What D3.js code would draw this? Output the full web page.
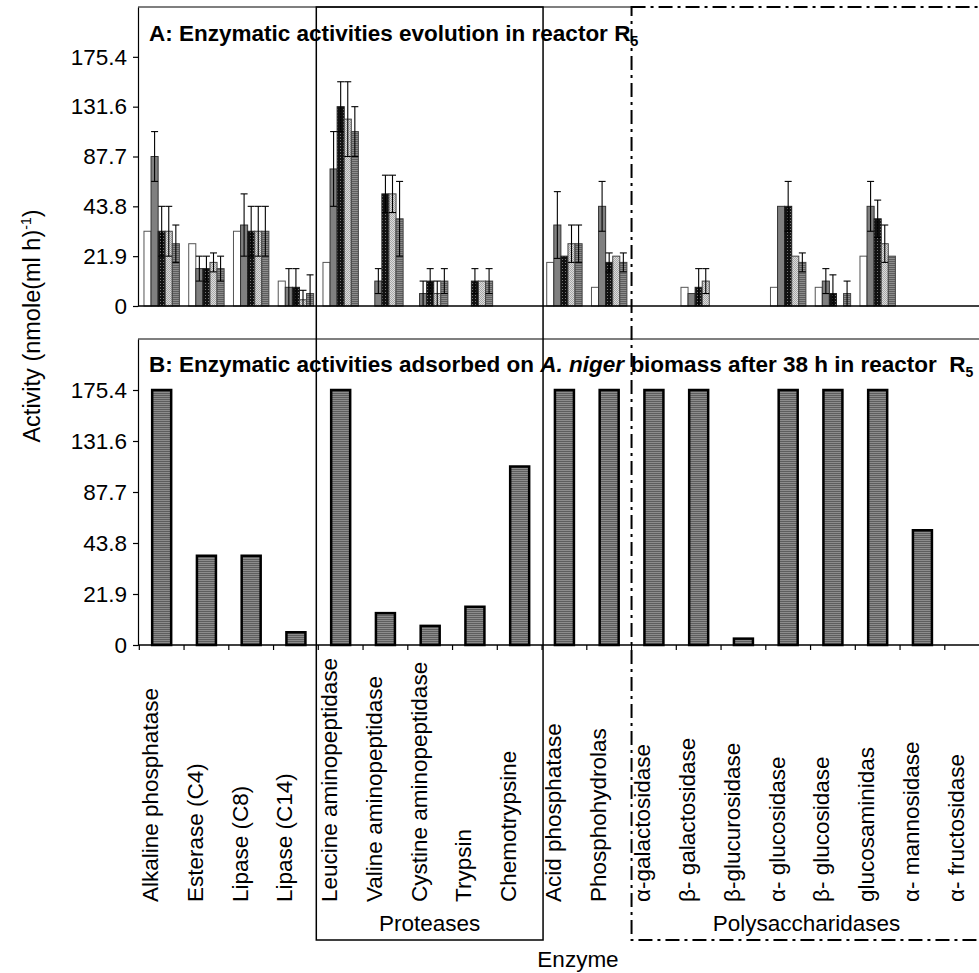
<!DOCTYPE html>
<html>
<head>
<meta charset="utf-8">
<script src="https://cdn.jsdelivr.net/npm/d3@7"></script>
<style>
  body { margin: 0; background: #fff; }
  svg text { font-family: "Liberation Sans", Arial, sans-serif; fill: #000; }
</style>
</head>
<body>
<div id="chart"></div>
<script>
// The 19 enzymes of the API ZYM strip
var enzymes = ["Alkaline phosphatase", "Esterase (C4)", "Lipase (C8)", "Lipase (C14)",
    "Leucine aminopeptidase", "Valine aminopeptidase", "Cystine aminopeptidase", "Trypsin",
    "Chemotrypsine", "Acid phosphatase", "Phosphohydrolas", "\u03b1-galactosidase",
    "\u03b2- galactosidase", "\u03b2-glucurosidase", "\u03b1- glucosidase", "\u03b2- glucosidase",
    "glucosaminidas", "\u03b1- mannosidase", "\u03b1- fructosidase"];

// y axis works in API ZYM levels (0..5), each level labelled in nmole(ml h)-1
var levelLabels = ["0", "21.9", "43.8", "87.7", "131.6", "175.4"];

// Panel A: five samplings in reactor R5 (level values and error bars)
var sampleA1 = [1.5, 1.25, 1.5, 0.5, 0.875, 0, 0, 0, 0, 0.875, 0.375, 0, 0.375, 0, 0.375, 0.375, 1, 0, 0];
var sampleA2 = [3, 0.75, 1.625, 0.375, 2.75, 0.5, 0.25, 0, 0, 1.625, 2, 0, 0.25, 0, 2, 0.5, 2, 0, 0];
var sampleA3 = [1.5, 0.75, 1.5, 0.375, 4, 2.25, 0.5, 0.5, 0, 1, 0.875, 0, 0.375, 0, 2, 0.25, 1.75, 0, 0];
var sampleA4 = [1.5, 0.875, 1.5, 0.125, 3.75, 2.25, 0.25, 0.5, 0, 1.25, 1, 0, 0.5, 0, 1, 0, 1.25, 0, 0];
var sampleA5 = [1.25, 0.75, 1.5, 0.25, 3.5, 1.75, 0.5, 0.5, 0, 1.25, 0.875, 0, 0, 0, 0.875, 0.25, 1, 0, 0];

var errA1 = [0, 0, 0, 0, 0, 0, 0, 0, 0, 0, 0, 0, 0, 0, 0, 0, 0, 0, 0];
var errA2 = [0.5, 0.25, 0.625, 0.375, 0.75, 0.25, 0.25, 0, 0, 0.67, 0.5, 0, 0, 0, 0, 0.25, 0.5, 0, 0];
var errA3 = [0.5, 0.25, 0.5, 0.375, 0.5, 0.375, 0.25, 0.25, 0, 0, 0.19, 0, 0.375, 0, 0.5, 0.375, 0.375, 0, 0];
var errA4 = [0.5, 0.19, 0.5, 0.19, 0.75, 0.375, 0.25, 0, 0, 0.375, 0, 0, 0.25, 0, 0, 0, 0.375, 0, 0];
var errA5 = [0.375, 0.25, 0.5, 0.375, 0.5, 0.75, 0.25, 0.25, 0, 0.375, 0.19, 0, 0, 0, 0.19, 0.25, 0, 0, 0];

// Panel B: activities adsorbed on A. niger biomass after 38 h
var adsorbedB = [5, 1.75, 1.75, 0.25, 5, 0.625, 0.375, 0.75, 3.5, 5, 5, 5, 5, 0.125, 5, 5, 5, 2.25, 0];

var width = 979, height = 973;

var svg = d3.select("#chart")
    .append("svg")
    .attr("width", width)
    .attr("height", height);

// fill patterns of the excel bars
var defs = svg.append("defs");

var stripe = defs.append("pattern").attr("id", "stripe")
    .attr("patternUnits", "userSpaceOnUse").attr("width", 4).attr("height", 2);
stripe.append("rect").attr("width", 4).attr("height", 2).attr("fill", "#8c8c8c");
stripe.append("rect").attr("y", 1).attr("width", 4).attr("height", 1).attr("fill", "#5e5e5e");

var checker = defs.append("pattern").attr("id", "checker")
    .attr("patternUnits", "userSpaceOnUse").attr("width", 3).attr("height", 3);
checker.append("rect").attr("width", 3).attr("height", 3).attr("fill", "#111");
checker.append("rect").attr("x", 1).attr("y", 1).attr("width", 1).attr("height", 1).attr("fill", "#777");

var dots = defs.append("pattern").attr("id", "dots")
    .attr("patternUnits", "userSpaceOnUse").attr("width", 2).attr("height", 2);
dots.append("rect").attr("width", 2).attr("height", 2).attr("fill", "#dcdcdc");
dots.append("rect").attr("width", 1).attr("height", 1).attr("fill", "#a8a8a8");
dots.append("rect").attr("x", 1).attr("y", 1).attr("width", 1).attr("height", 1).attr("fill", "#a8a8a8");

// scales
var x = d3.scaleBand().domain(enzymes).range([139.3, 139.3 + 44.75 * enzymes.length]);
var yA = d3.scaleLinear().domain([0, 6]).range([306, 7]);
var yB = d3.scaleLinear().domain([0, 6]).range([645, 339]);
var xSample = d3.scaleBand().domain(d3.range(5)).range([0, x.bandwidth()]).paddingOuter(0.66);

var seriesA = [
    { vals: sampleA1, err: errA1, fill: "#fff", stroke: "#555" },
    { vals: sampleA2, err: errA2, fill: "#808080", stroke: "#333" },
    { vals: sampleA3, err: errA3, fill: "url(#checker)", stroke: "#222" },
    { vals: sampleA4, err: errA4, fill: "url(#dots)", stroke: "#444" },
    { vals: sampleA5, err: errA5, fill: "url(#stripe)", stroke: "#444" }
];

var tickVals = d3.range(levelLabels.length);
var font = "22.5px";

// ---- Panel A ----
svg.append("g")
    .attr("transform", "translate(138,0)")
    .call(d3.axisLeft(yA).tickValues(tickVals).tickFormat(function (i) { return levelLabels[i]; })
        .tickSize(5).tickSizeOuter(0).tickPadding(6));

// top border of panel A up to the polysaccharide box
svg.append("line")
    .attr("x1", 138).attr("x2", x(enzymes[11]))
    .attr("y1", yA(6)).attr("y2", yA(6))
    .attr("stroke", "#000").attr("stroke-width", 1.2);

seriesA.forEach(function (s, si) {
    var rows = enzymes.map(function (e, i) { return { e: e, v: s.vals[i], err: s.err[i] }; });
    svg.append("g").selectAll("rect")
        .data(rows.filter(function (d) { return d.v > 0; }))
        .enter()
        .append("rect")
        .attr("x", function (d) { return x(d.e) + xSample(si); })
        .attr("y", function (d) { return yA(d.v); })
        .attr("width", xSample.bandwidth())
        .attr("height", function (d) { return yA(0) - yA(d.v); })
        .attr("fill", s.fill)
        .attr("stroke", s.stroke)
        .attr("stroke-width", 1);

    // error bars (lower end stops at the baseline)
    var eb = svg.append("g").selectAll("g")
        .data(rows.filter(function (d) { return d.v > 0 && d.err > 0; }))
        .enter()
        .append("g")
        .attr("transform", function (d) { return "translate(" + (x(d.e) + xSample(si) + xSample.bandwidth() / 2) + ",0)"; })
        .attr("stroke", "#000").attr("stroke-width", 1.1);
    eb.append("line")
        .attr("y1", function (d) { return yA(d.v + d.err); })
        .attr("y2", function (d) { return yA(Math.max(0, d.v - d.err)); });
    eb.append("line").attr("x1", -3.5).attr("x2", 3.5)
        .attr("y1", function (d) { return yA(d.v + d.err); })
        .attr("y2", function (d) { return yA(d.v + d.err); });
    eb.filter(function (d) { return d.v - d.err > 0; })
        .append("line").attr("x1", -3.5).attr("x2", 3.5)
        .attr("y1", function (d) { return yA(d.v - d.err); })
        .attr("y2", function (d) { return yA(d.v - d.err); });
});

// baseline of panel A
svg.append("line")
    .attr("x1", 138).attr("x2", width)
    .attr("y1", yA(0)).attr("y2", yA(0))
    .attr("stroke", "#000").attr("stroke-width", 1.5);

var titleA = svg.append("text")
    .attr("x", 149).attr("y", 41)
    .attr("font-size", font).attr("font-weight", "bold")
    .text("A: Enzymatic activities evolution in reactor R");
titleA.append("tspan").attr("font-size", "14px").attr("dy", 5).text("5");

// ---- Panel B ----
svg.append("g")
    .attr("transform", "translate(138,0)")
    .call(d3.axisLeft(yB).tickValues(tickVals).tickFormat(function (i) { return levelLabels[i]; })
        .tickSize(5).tickSizeOuter(0).tickPadding(6));

svg.selectAll(".tick text").attr("font-size", font).attr("font-family", null);
svg.selectAll(".domain, .tick line").attr("stroke", "#000").attr("stroke-width", 1.2);

svg.append("line")
    .attr("x1", 138).attr("x2", width)
    .attr("y1", yB(6)).attr("y2", yB(6))
    .attr("stroke", "#000").attr("stroke-width", 1.2);

svg.append("g").selectAll("rect")
    .data(enzymes.filter(function (e, i) { return adsorbedB[i] > 0; }))
    .enter()
    .append("rect")
    .attr("x", function (e) { return x(e) + x.bandwidth() / 2 - 9.5; })
    .attr("y", function (e) { return yB(adsorbedB[enzymes.indexOf(e)]); })
    .attr("width", 19)
    .attr("height", function (e) { return yB(0) - yB(adsorbedB[enzymes.indexOf(e)]); })
    .attr("fill", "url(#stripe)")
    .attr("stroke", "#000")
    .attr("stroke-width", 2.5);

svg.append("line")
    .attr("x1", 138).attr("x2", width)
    .attr("y1", yB(0)).attr("y2", yB(0))
    .attr("stroke", "#000").attr("stroke-width", 1.5);

// ticks between categories
svg.append("g").selectAll("line")
    .data(enzymes)
    .enter()
    .append("line")
    .attr("x1", function (e) { return x(e); })
    .attr("x2", function (e) { return x(e); })
    .attr("y1", yB(0)).attr("y2", yB(0) + 5)
    .attr("stroke", "#000").attr("stroke-width", 1.2);

var titleB = svg.append("text")
    .attr("x", 149).attr("y", 372)
    .attr("font-size", font).attr("font-weight", "bold");
titleB.append("tspan").text("B: Enzymatic activities adsorbed on ");
titleB.append("tspan").attr("font-style", "italic").text("A. niger");
titleB.append("tspan").text(" biomass after 38 h in reactor \u00a0R");
titleB.append("tspan").attr("font-size", "14px").attr("dy", 5).text("5");

// enzyme names
svg.append("g").selectAll("text")
    .data(enzymes)
    .enter()
    .append("text")
    .attr("transform", function (e) { return "translate(" + (x(e) + x.bandwidth() / 2 - 3.5) + ",902) rotate(-90)"; })
    .attr("font-size", font)
    .text(function (e) { return e; });

// groups: proteases (solid box) and polysaccharidases (dash-dot box)
var protLeft = x(enzymes[4]) - 2, protRight = x(enzymes[9]) + 1;
svg.append("rect")
    .attr("x", protLeft).attr("y", yA(6))
    .attr("width", protRight - protLeft).attr("height", 940 - yA(6))
    .attr("fill", "none").attr("stroke", "#000").attr("stroke-width", 1.5);
svg.append("text")
    .attr("x", (protLeft + protRight) / 2).attr("y", 931)
    .attr("text-anchor", "middle").attr("font-size", font)
    .text("Proteases");

var polyLeft = x(enzymes[11]);
svg.append("rect")
    .attr("x", polyLeft).attr("y", yA(6))
    .attr("width", width + 20 - polyLeft).attr("height", 940 - yA(6))
    .attr("fill", "none").attr("stroke", "#000").attr("stroke-width", 2)
    .attr("stroke-dasharray", "14,5,3,5");
svg.append("text")
    .attr("x", (polyLeft + x.range()[1]) / 2 - 4).attr("y", 931)
    .attr("text-anchor", "middle").attr("font-size", font)
    .text("Polysaccharidases");

// axis titles
svg.append("text")
    .attr("x", 578).attr("y", 967)
    .attr("text-anchor", "middle").attr("font-size", font)
    .text("Enzyme");

var yTitle = svg.append("text")
    .attr("transform", "translate(40,326) rotate(-90)")
    .attr("text-anchor", "middle").attr("font-size", "23.5px");
yTitle.append("tspan").text("Activity (nmole(ml h)");
yTitle.append("tspan").attr("font-size", "14px").attr("dy", -9).text("-1");
yTitle.append("tspan").attr("dy", 9).text(")");
</script>
</body>
</html>
